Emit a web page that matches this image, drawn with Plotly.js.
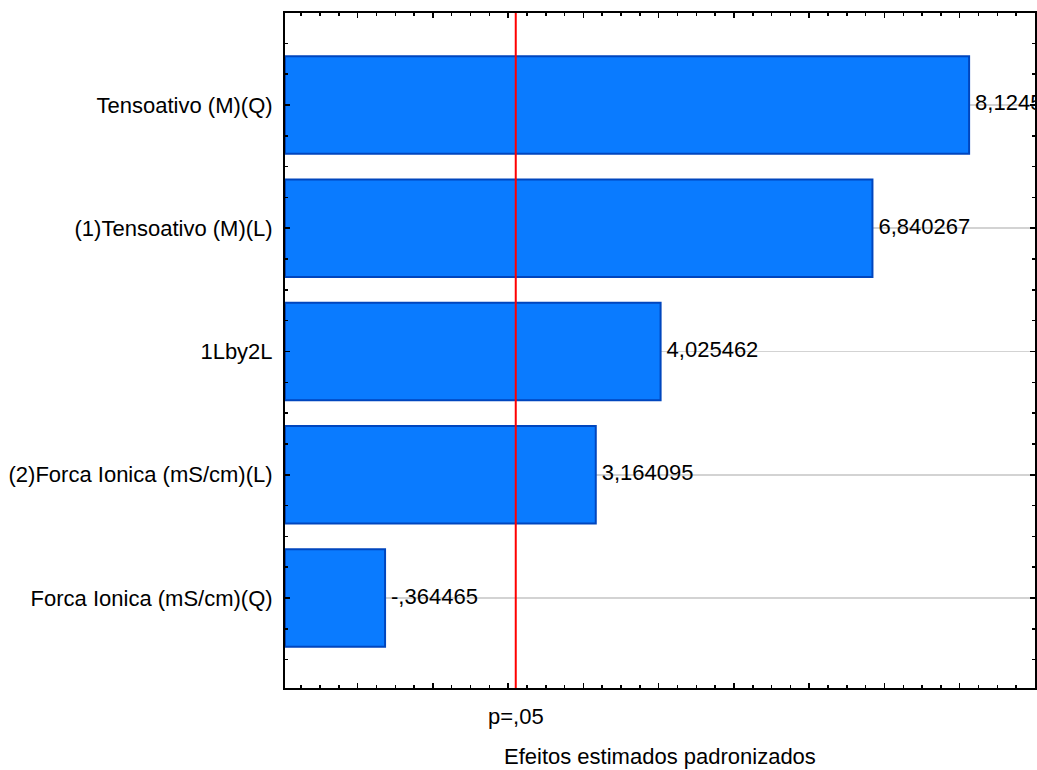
<!DOCTYPE html>
<html>
<head>
<meta charset="utf-8">
<script src="https://cdn.plot.ly/plotly-3.0.1.min.js"></script>
<style>html,body{margin:0;padding:0;background:#fff}#chart{width:1037px;height:770px}</style>
</head>
<body>
<div id="chart"></div>
<script>
// Data (top to bottom)
const factors = [
  "Tensoativo (M)(Q)",
  "(1)Tensoativo (M)(L)",
  "1Lby2L",
  "(2)Forca Ionica (mS/cm)(L)",
  "Forca Ionica (mS/cm)(Q)"
];
const effects = [8.1245, 6.840267, 4.025462, 3.164095, -0.364465];
const pCritical = 2.1009;
const pLabel = "p=,05";
const xTitle = "Efeitos estimados padronizados";

const XMIN = -0.965, XMAX = 9.0;
const n = factors.length;
const ypos = factors.map((f, i) => n - 1 - i);
const absEff = effects.map(v => Math.abs(v));
const fmt = v => {
  let s = v.toFixed(6).replace('.', ',');
  s = s.replace(/^(-?)0,/, '$1,');
  return s;
};
const FONT = "Liberation Sans, Arial, sans-serif";
const FS = 22;

const bars = {
  type: 'bar', orientation: 'h',
  y: ypos, x: absEff.map(v => v - XMIN), base: absEff.map(() => XMIN),
  width: 0.79,
  marker: {color: '#0A7BFF', line: {color: '#0046BE', width: 2}},
  hoverinfo: 'skip', showlegend: false
};
const labels = {
  type: 'scatter', mode: 'markers+text',
  x: absEff, y: ypos, text: effects.map(fmt),
  marker: {size: 8, opacity: 0},
  textposition: 'middle right',
  textfont: {family: FONT, size: FS, color: '#000'},
  cliponaxis: true, hoverinfo: 'skip', showlegend: false
};

const layout = {
  width: 1037, height: 770,
  margin: {l: 285, r: 2, t: 13, b: 82},
  paper_bgcolor: '#fff', plot_bgcolor: '#fff',
  font: {family: FONT, size: FS, color: '#000'},
  xaxis: {
    range: [XMIN, XMAX], showgrid: false, zeroline: false,
    showline: true, linecolor: '#000', linewidth: 2, mirror: 'allticks',
    ticks: 'inside', ticklen: 5, tickwidth: 1.5, tickcolor: '#000',
    dtick: 1, tick0: 0, showticklabels: false,
    minor: {dtick: 0.25, tick0: 0, ticks: 'inside', ticklen: 3, tickwidth: 1.5, tickcolor: '#000', showgrid: false}
  },
  yaxis: {
    range: [-0.73, n - 1 + 0.746], zeroline: false,
    showline: true, linecolor: '#000', linewidth: 2, mirror: 'allticks',
    ticks: 'inside', ticklen: 5, tickwidth: 1.5, tickcolor: '#000',
    tickvals: ypos, ticktext: factors,
    showgrid: true, gridcolor: '#d3d3d3', gridwidth: 1.5,
    ticklabelstandoff: 6,
    minor: {dtick: 0.25, tick0: 0, ticks: 'inside', ticklen: 3, tickwidth: 1.5, tickcolor: '#000', showgrid: false},
    tickfont: {family: FONT, size: FS}
  },
  shapes: [{type: 'line', xref: 'x', yref: 'paper', x0: pCritical, x1: pCritical, y0: 0, y1: 1,
            line: {color: '#FF0000', width: 2}}],
  annotations: [
    {xref: 'x', yref: 'paper', x: pCritical, y: 0, yshift: -28, text: pLabel,
     showarrow: false, xanchor: 'center', yanchor: 'middle', font: {family: FONT, size: FS}},
    {xref: 'paper', yref: 'paper', x: 0.5, y: 0, yshift: -68, text: xTitle,
     showarrow: false, xanchor: 'center', yanchor: 'middle', font: {family: FONT, size: FS}}
  ]
};

Plotly.newPlot('chart', [bars, labels], layout, {displayModeBar: false, staticPlot: true});
</script>
</body>
</html>
